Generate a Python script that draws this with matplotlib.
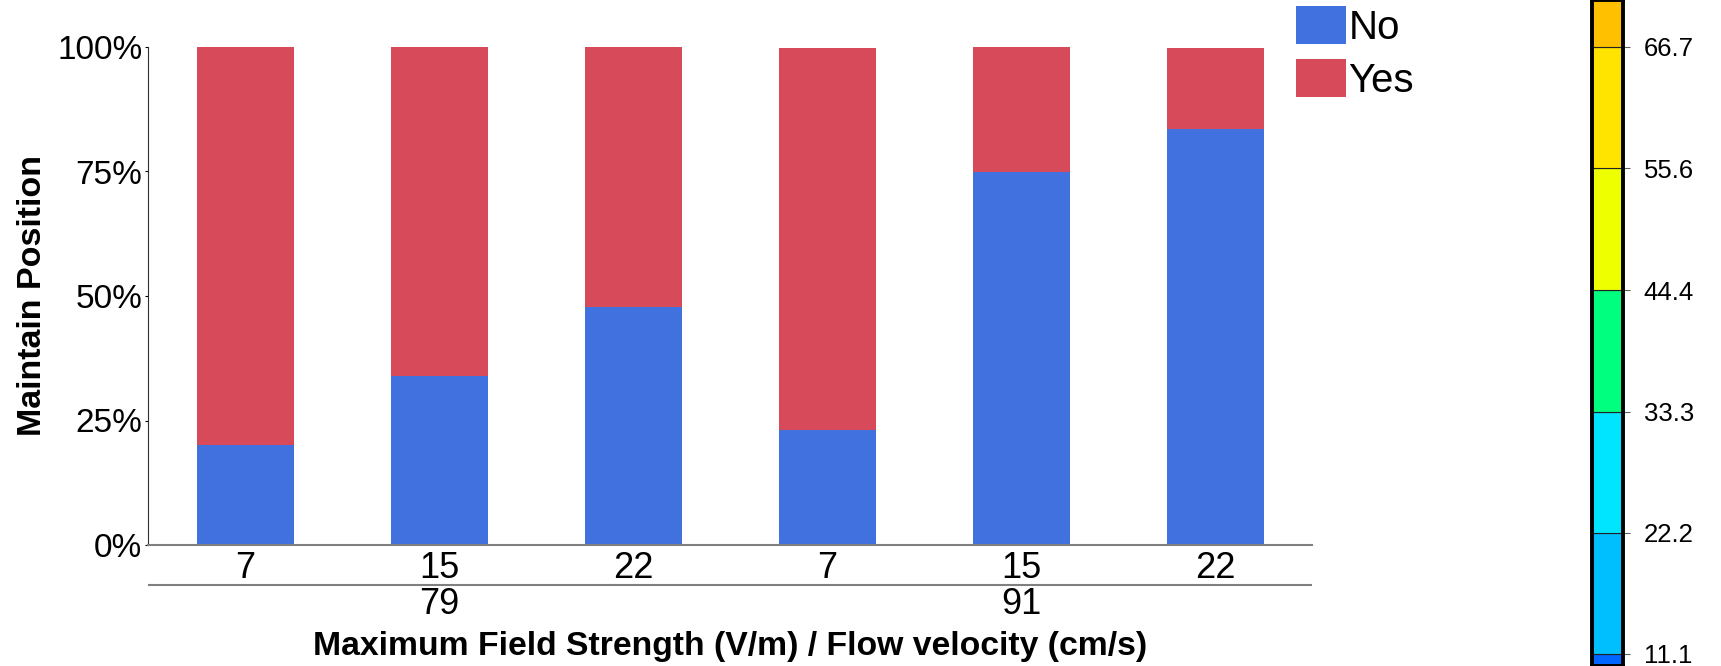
import numpy as np
import matplotlib
matplotlib.use("Agg")
import matplotlib.pyplot as plt
import matplotlib.transforms as mtransforms
from matplotlib.ticker import FuncFormatter

plt.rcParams['font.family'] = ['Liberation Sans', 'DejaVu Sans']

# data
field_groups = ['79', '91']
flow_velocity = ['7', '15', '22', '7', '15', '22']
no_pct = [20.0, 34.0, 47.8, 23.1, 75.0, 83.5]
yes_pct = [80.0, 66.0, 52.2, 76.7, 25.0, 16.3]

# colour scale shown at the right edge (cropped)
scale_edges = [0.0, 11.1, 22.2, 33.3, 44.4, 55.6, 66.7, 77.8]
scale_colors = ['#0066FF', '#00BFFF', '#00E5FF', '#00FF7F', '#EEFF00', '#FFE400', '#FFC000']
scale_ticks = ['11.1', '22.2', '33.3', '44.4', '55.6', '66.7']

blue = '#4171DE'
red = '#D64A5A'

W, H = 1721, 666
fig = plt.figure(figsize=(W / 100, H / 100), dpi=100)

# main axes, placed in pixels
left, right, top, bottom = 148, 1312, 47, 545
ax = fig.add_axes([left / W, 1 - bottom / H, (right - left) / W, (bottom - top) / H])

x = np.arange(len(flow_velocity))
ax.bar(x, no_pct, width=0.5, color=blue, label='No')
ax.bar(x, yes_pct, width=0.5, bottom=no_pct, color=red, label='Yes')

ax.set_xlim(-0.5, len(flow_velocity) - 0.5)
ax.set_ylim(0, 100)
ax.set_yticks([0, 25, 50, 75, 100])
ax.yaxis.set_major_formatter(FuncFormatter(lambda v, p: '%d%%' % v))
ax.set_xticks(x)
ax.set_xticklabels(flow_velocity)
ax.tick_params(axis='x', length=0, pad=4, labelsize=26)
ax.tick_params(axis='y', length=2.5, width=0.8, pad=1.5, labelsize=24)

for s in ['top', 'right']:
    ax.spines[s].set_visible(False)
ax.spines['bottom'].set_color('#808080')
ax.spines['bottom'].set_linewidth(1.5)
ax.spines['left'].set_color('#303030')
ax.spines['left'].set_linewidth(0.8)

# group axis under the tick labels
ph = bottom - top
trans = mtransforms.blended_transform_factory(ax.transData, ax.transAxes)
n_per = len(flow_velocity) // len(field_groups)
for i, g in enumerate(field_groups):
    x0 = i * n_per - 0.5
    x1 = x0 + n_per
    ax.plot([x0 + 0.005, x1 - 0.005], [-(585 - bottom) / ph] * 2, color='#808080',
            lw=1.5, transform=trans, clip_on=False)
    ax.text((x0 + x1) / 2, -(604 - bottom) / ph, g, transform=trans,
            ha='center', va='center', fontsize=26)

ax.set_xlabel('Maximum Field Strength (V/m) / Flow velocity (cm/s)',
              fontsize=24.3, fontweight='bold')
ax.xaxis.set_label_coords(0.5, -(647 - bottom) / ph)
ax.xaxis.label.set_va('center')
ax.set_ylabel('Maintain Position', fontsize=24.5, fontweight='bold')
ax.yaxis.set_label_coords((33 - left) / (right - left), 0.5)
ax.yaxis.label.set_va('center')

ax.legend(loc='upper left', bbox_to_anchor=(1296 / W, 1 - 6 / H),
          bbox_transform=fig.transFigure, frameon=False, fontsize=29,
          handlelength=1.25, handleheight=1.08, handletextpad=0.05,
          labelspacing=0.3, borderpad=0, borderaxespad=0)

# colour bar, cropped at the figure edges
cax = fig.add_axes([1592 / W, 0, (1623 - 1592) / W, 1])
heights = np.diff(scale_edges)
cax.bar(0, heights, bottom=scale_edges[:-1], width=1, color=scale_colors,
        edgecolor='#222222', linewidth=0.8)
cax.set_xlim(-0.5, 0.5)
cax.set_ylim(10.0, 71.0)
cax.set_xticks([])
cax.yaxis.tick_right()
cax.set_yticks(scale_edges[1:7])
cax.set_yticklabels(scale_ticks)
cax.tick_params(axis='y', length=5, width=0.8, color='#606060', pad=10, labelsize=18.5)
for s in cax.spines.values():
    s.set_linewidth(2.8)
    s.set_color('black')

fig.savefig('out.png', dpi=100)
